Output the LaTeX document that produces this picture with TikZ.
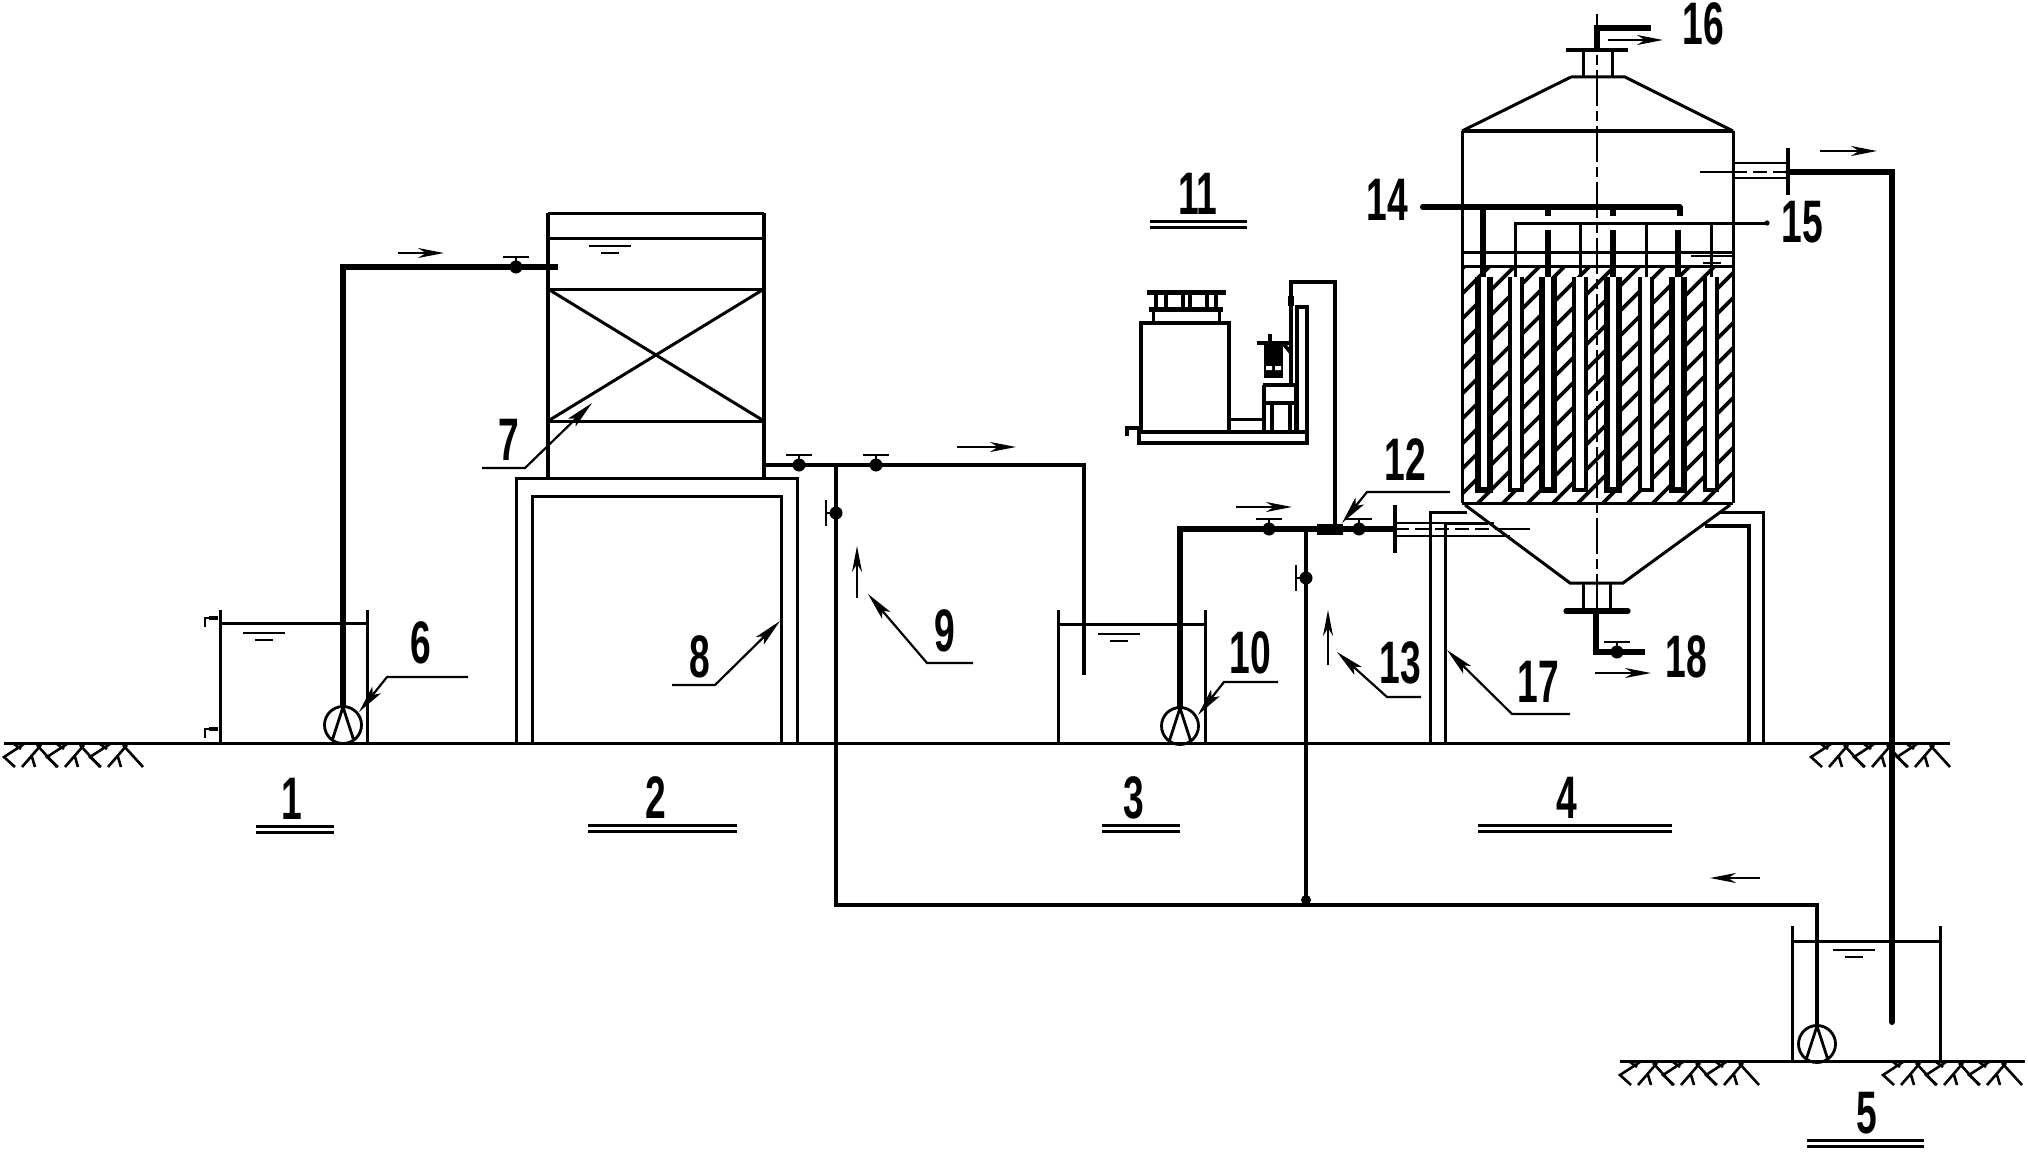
\documentclass[tikz,border=0pt]{standalone}
\usepackage{fontspec}
\setmainfont{Liberation Sans}
\usetikzlibrary{arrows.meta}
\tikzset{
	wall/.style={line width=1.5pt},
	thin wall/.style={line width=1.1pt},
	pipe/.style={line width=3pt},
	flow/.style={line width=1.2pt,-{Stealth[length=13pt,width=5pt,inset=4pt]}},
	leader/.style={line width=1.1pt,-{Stealth[length=14pt,width=5.4pt,inset=3pt]}},
	axis/.style={line width=1.1pt,dash pattern=on 18pt off 2.5pt on 5pt off 2.5pt},
	num/.style={font=\fontsize{30}{30}\selectfont\bfseries,xscale=.62,transform shape,inner sep=0pt},
	pump/.pic={\draw[line width=1.4pt] (0,0) circle [radius=18.5] (-11,16) -- (0,-18) -- (11,16);},
	valve/.pic={\fill (0,0) circle [radius=6.5];\draw[line width=1.3pt] (-13,-10) -- (13,-10) (0,-10) -- (0,0);},
	level/.pic={\draw[line width=1.3pt] (-21,0) -- (21,0) (-9,7) -- (9,7);},
	earth/.pic={\foreach \k in {0,1,2}{
		\draw[line width=1.3pt,shift={(43*\k,0)}] (20,1) -- (0,14) -- (11,24) (10,1) -- (17,6) (37,2) -- (18,24) (33,2) -- (53,24) (28,14) -- (31,24);}},
}
\begin{document}
\begin{tikzpicture}[x=.5pt,y=-.5pt]
	\useasboundingbox (0,0) rectangle (2028,1156);
	% ground
	\draw[wall] (4,743) -- (1950,743);
	\draw[wall] (1620,1061) -- (2025,1061);
	\pic at (4,743) {earth};
	\pic at (1811,743) {earth};
	\pic at (1620,1061) {earth};
	\pic at (1883,1061) {earth};
	% tank 1
	\draw[wall] (220,610) -- (220,743) (367,610) -- (367,743) (220,623) -- (367,623);
	\draw[thin wall] (205,627) -- (205,618) -- (210,618) (205,738) -- (205,729) -- (210,729);
	\draw[line width=2.4pt] (209,618) -- (218,618) (209,729) -- (218,729);
	\pic at (264,633) {level};
	\pic at (343,725) {pump};
	\draw[pipe] (343,707) -- (343,267) -- (558,267);
	\pic at (516,267) {valve};
	\draw[flow] (398,253) -- (444,253);
	% tower
	\draw[wall] (548,213) -- (764,213) (548,238) -- (764,238) (548,289) -- (764,289) (548,421) -- (764,421);
	\draw[wall] (548,289) -- (764,421) (548,421) -- (764,289);
	\draw[line width=2.1pt] (548,213) -- (548,477) (764,213) -- (764,477);
	\pic at (610,246) {level};
	\draw[wall] (516,743) -- (516,478) -- (797,478) -- (797,743);
	\draw[wall] (532,743) -- (532,496) -- (781,496) -- (781,743);
	% pipe to tank 3
	\draw[pipe,line width=2.4pt] (764,465) -- (1084,465) -- (1084,675);
	\pic at (799,465) {valve};
	\pic at (876,465) {valve};
	\draw[flow] (957,447) -- (1016,447);
	\draw[wall] (1058,610) -- (1058,743) (1205,610) -- (1205,743) (1058,624) -- (1205,624);
	\pic at (1119,634) {level};
	\pic at (1180,726) {pump};
	% return line
	\draw[line width=2pt] (836,465) -- (836,905) -- (1817,905) -- (1817,1026);
	\draw[line width=2pt] (1306,529) -- (1306,905);
	\fill (1306,900) circle [radius=5];
	\pic[rotate=90] at (836,513) {valve};
	\pic[rotate=90] at (1306,578) {valve};
	\draw[flow] (857,598) -- (857,546);
	\draw[flow] (1328,665) -- (1328,610);
	\draw[flow] (1760,878) -- (1710,878);
	% feed to reactor
	\draw[pipe] (1180,708) -- (1180,529) -- (1395,529);
	\draw[line width=5.5pt] (1317,529) -- (1343,529);
	\pic at (1269,529) {valve};
	\pic at (1359,529) {valve};
	\draw[flow] (1236,507) -- (1292,507);
	\draw[line width=2pt] (1395,505) -- (1395,553);
	\draw[thin wall] (1395,523) -- (1494,523) (1395,536) -- (1510,536);
	\draw[thin wall,dash pattern=on 7pt off 3pt] (1395,529) -- (1500,529);
	\draw[thin wall] (1500,529) -- (1530,529);
	% dosing unit
	\draw[line width=1.9pt] (1139,432) rectangle (1307,443);
	\draw[line width=2pt] (1141,432) -- (1141,323) -- (1229,323) -- (1229,432);
	\draw[wall] (1153,323) -- (1153,309) (1219,323) -- (1219,309);
	\draw[line width=2.5pt] (1149,309) -- (1223,309) (1147,292) -- (1226,292);
	\draw[line width=1.8pt] (1156,292) -- (1156,309) (1166,292) -- (1166,309) (1183,292) -- (1183,309) (1190,292) -- (1190,309) (1207,292) -- (1207,309) (1216,292) -- (1216,309);
	\draw[line width=2pt] (1139,428) -- (1127,428) -- (1127,436);
	\draw[wall] (1229,419) -- (1265,419);
	\draw[line width=1.9pt] (1263,385) -- (1298,385) (1265,403) -- (1298,403) (1264,385) -- (1264,432) (1296,385) -- (1296,432) (1272,403) -- (1272,432) (1290,403) -- (1290,432);
	\fill (1264,344) rectangle (1283,378);
	\fill[white] (1266,366) rectangle (1272,370) (1275,366) rectangle (1281,370);
	\draw[line width=1.9pt] (1257,343) -- (1291,343) (1270,334) -- (1270,344) (1283,343) -- (1291,353);
	\draw[line width=1.9pt] (1297,432) -- (1297,307) -- (1307,307) -- (1307,432);
	\draw[line width=1.9pt] (1335,525) -- (1335,282) -- (1291,282) -- (1291,385);
	\fill (1288,296) rectangle (1294,306);
	% reactor media
	\begin{scope}
		\clip (1462,266) rectangle (1733,503);
		\foreach \d in {0,25,...,520}
			\draw[line width=1.8pt] (1440+\d,266) -- (1190+\d,516);
	\end{scope}
	\foreach \x/\w in {1484/2.7,1516/1.6,1548/2.7,1580/1.6,1613/2.7,1646/1.6,1678/2.7,1711/1.6}
		\draw[line width=\w pt,fill=white] (\x-6,277) -- (\x-6,490) -- (\x+6,490) -- (\x+6,277);
	% reactor body
	\draw[wall] (1571,77) -- (1625,77) -- (1733,131) (1571,77) -- (1462,131);
	\draw[line width=2.1pt] (1462,131) -- (1733,131);
	\draw[wall] (1462,131) -- (1462,503) (1733,131) -- (1733,503);
	\draw[wall] (1462,252) -- (1733,252) (1462,266) -- (1733,266) (1462,503) -- (1733,503);
	\draw[wall] (1583,50) -- (1583,77) (1612,50) -- (1612,77);
	\draw[line width=2.2pt] (1566,50) -- (1628,50);
	\draw[wall] (1465,505) -- (1570,583) -- (1623,583) -- (1730,505);
	\draw[wall] (1583,583) -- (1583,611) (1610,583) -- (1610,611);
	\draw[line width=2.6pt,line cap=round] (1566,611) -- (1628,611);
	\draw[axis] (1597,14) -- (1597,625);
	\pic at (1712,256) {level};
	% aeration and collecting pipes
	\draw[line width=2.6pt,line cap=round] (1423,207) -- (1680,207);
	\draw[line width=2.6pt] (1680,206) -- (1680,216) (1548,207) -- (1548,216) (1613,207) -- (1613,216) (1483,207) -- (1483,277);
	\foreach \x in {1548,1613,1678}
		\draw[line width=2.6pt] (\x,230) -- (\x,277);
	\draw[wall] (1515,277) -- (1515,223) -- (1767,223);
	\foreach \x in {1580,1646,1711}
		\draw[wall] (\x,223) -- (\x,277);
	\fill (1423,207) circle [radius=3] (1767,223) circle [radius=2.6];
	% reactor outlet
	\draw[thin wall] (1733,163) -- (1788,163) (1733,178) -- (1788,178);
	\draw[thin wall] (1700,172) -- (1733,172);
	\draw[thin wall,dash pattern=on 7pt off 3pt] (1733,172) -- (1788,172);
	\draw[line width=2pt] (1788,148) -- (1788,195);
	\draw[pipe,line cap=round] (1788,172) -- (1892,172) -- (1892,1022);
	\draw[flow] (1820,151) -- (1877,151);
	% top and bottom branches
	\draw[line width=2.6pt] (1597,50) -- (1597,28) -- (1651,28);
	\draw[flow] (1608,40) -- (1663,40);
	\draw[line width=2.8pt] (1596,611) -- (1596,652) -- (1645,652);
	\pic at (1617,652) {valve};
	\draw[flow] (1595,673) -- (1651,673);
	% reactor supports
	\draw[wall] (1430,743) -- (1430,512) -- (1467,512);
	\draw[wall] (1445,743) -- (1445,523) -- (1488,523);
	\draw[wall] (1763,743) -- (1763,512) -- (1720,512);
	\draw[line width=1.9pt] (1749,743) -- (1749,526) -- (1705,526);
	% tank 5
	\draw[wall] (1792,926) -- (1792,1061) (1940,926) -- (1940,1061) (1792,941) -- (1940,941);
	\pic at (1854,950) {level};
	\pic at (1817,1044) {pump};
	% numbers with leaders
	\node[num] (n6) at (421,643) {6};
	\draw[leader] (468,677) -- (387,677) -- (359,712);
	\node[num] (n7) at (509,440) {7};
	\draw[leader] (482,468) -- (525,468) -- (592,403);
	\node[num] (n8) at (700,657) {8};
	\draw[leader] (672,685) -- (715,685) -- (780,621);
	\node[num] (n9) at (945,631) {9};
	\draw[leader] (973,663) -- (927,663) -- (868,594);
	\node[num] (n10) at (1250,653) {10};
	\draw[leader] (1278,682) -- (1224,682) -- (1198,715);
	\node[num] (n12) at (1405,460) {12};
	\draw[leader] (1450,492) -- (1367,492) -- (1342,523);
	\node[num] (n13) at (1400,663) {13};
	\draw[leader] (1421,697) -- (1387,697) -- (1337,652);
	\node[num] (n17) at (1538,682) {17};
	\draw[leader] (1570,714) -- (1512,714) -- (1447,650);
	\node[num] (n14) at (1387,200) {14};
	\node[num] (n15) at (1802,222) {15};
	\node[num] (n16) at (1703,24) {16};
	\node[num] (n18) at (1686,657) {18};
	% numbers with double rule
	\foreach \t/\x/\y/\a/\b in {1/292/799/256/334,2/656/798/588/737,3/1134/798/1102/1180,4/1567/798/1478/1672,5/1867/1113/1807/1924,11/1198/194/1150/1247}{
		\node[num] (n\t) at (\x,\y) {\t};
		\draw[line width=1.5pt] (\a,\y+27) -- (\b,\y+27) (\a,\y+33) -- (\b,\y+33);
	}
\end{tikzpicture}
\end{document}
